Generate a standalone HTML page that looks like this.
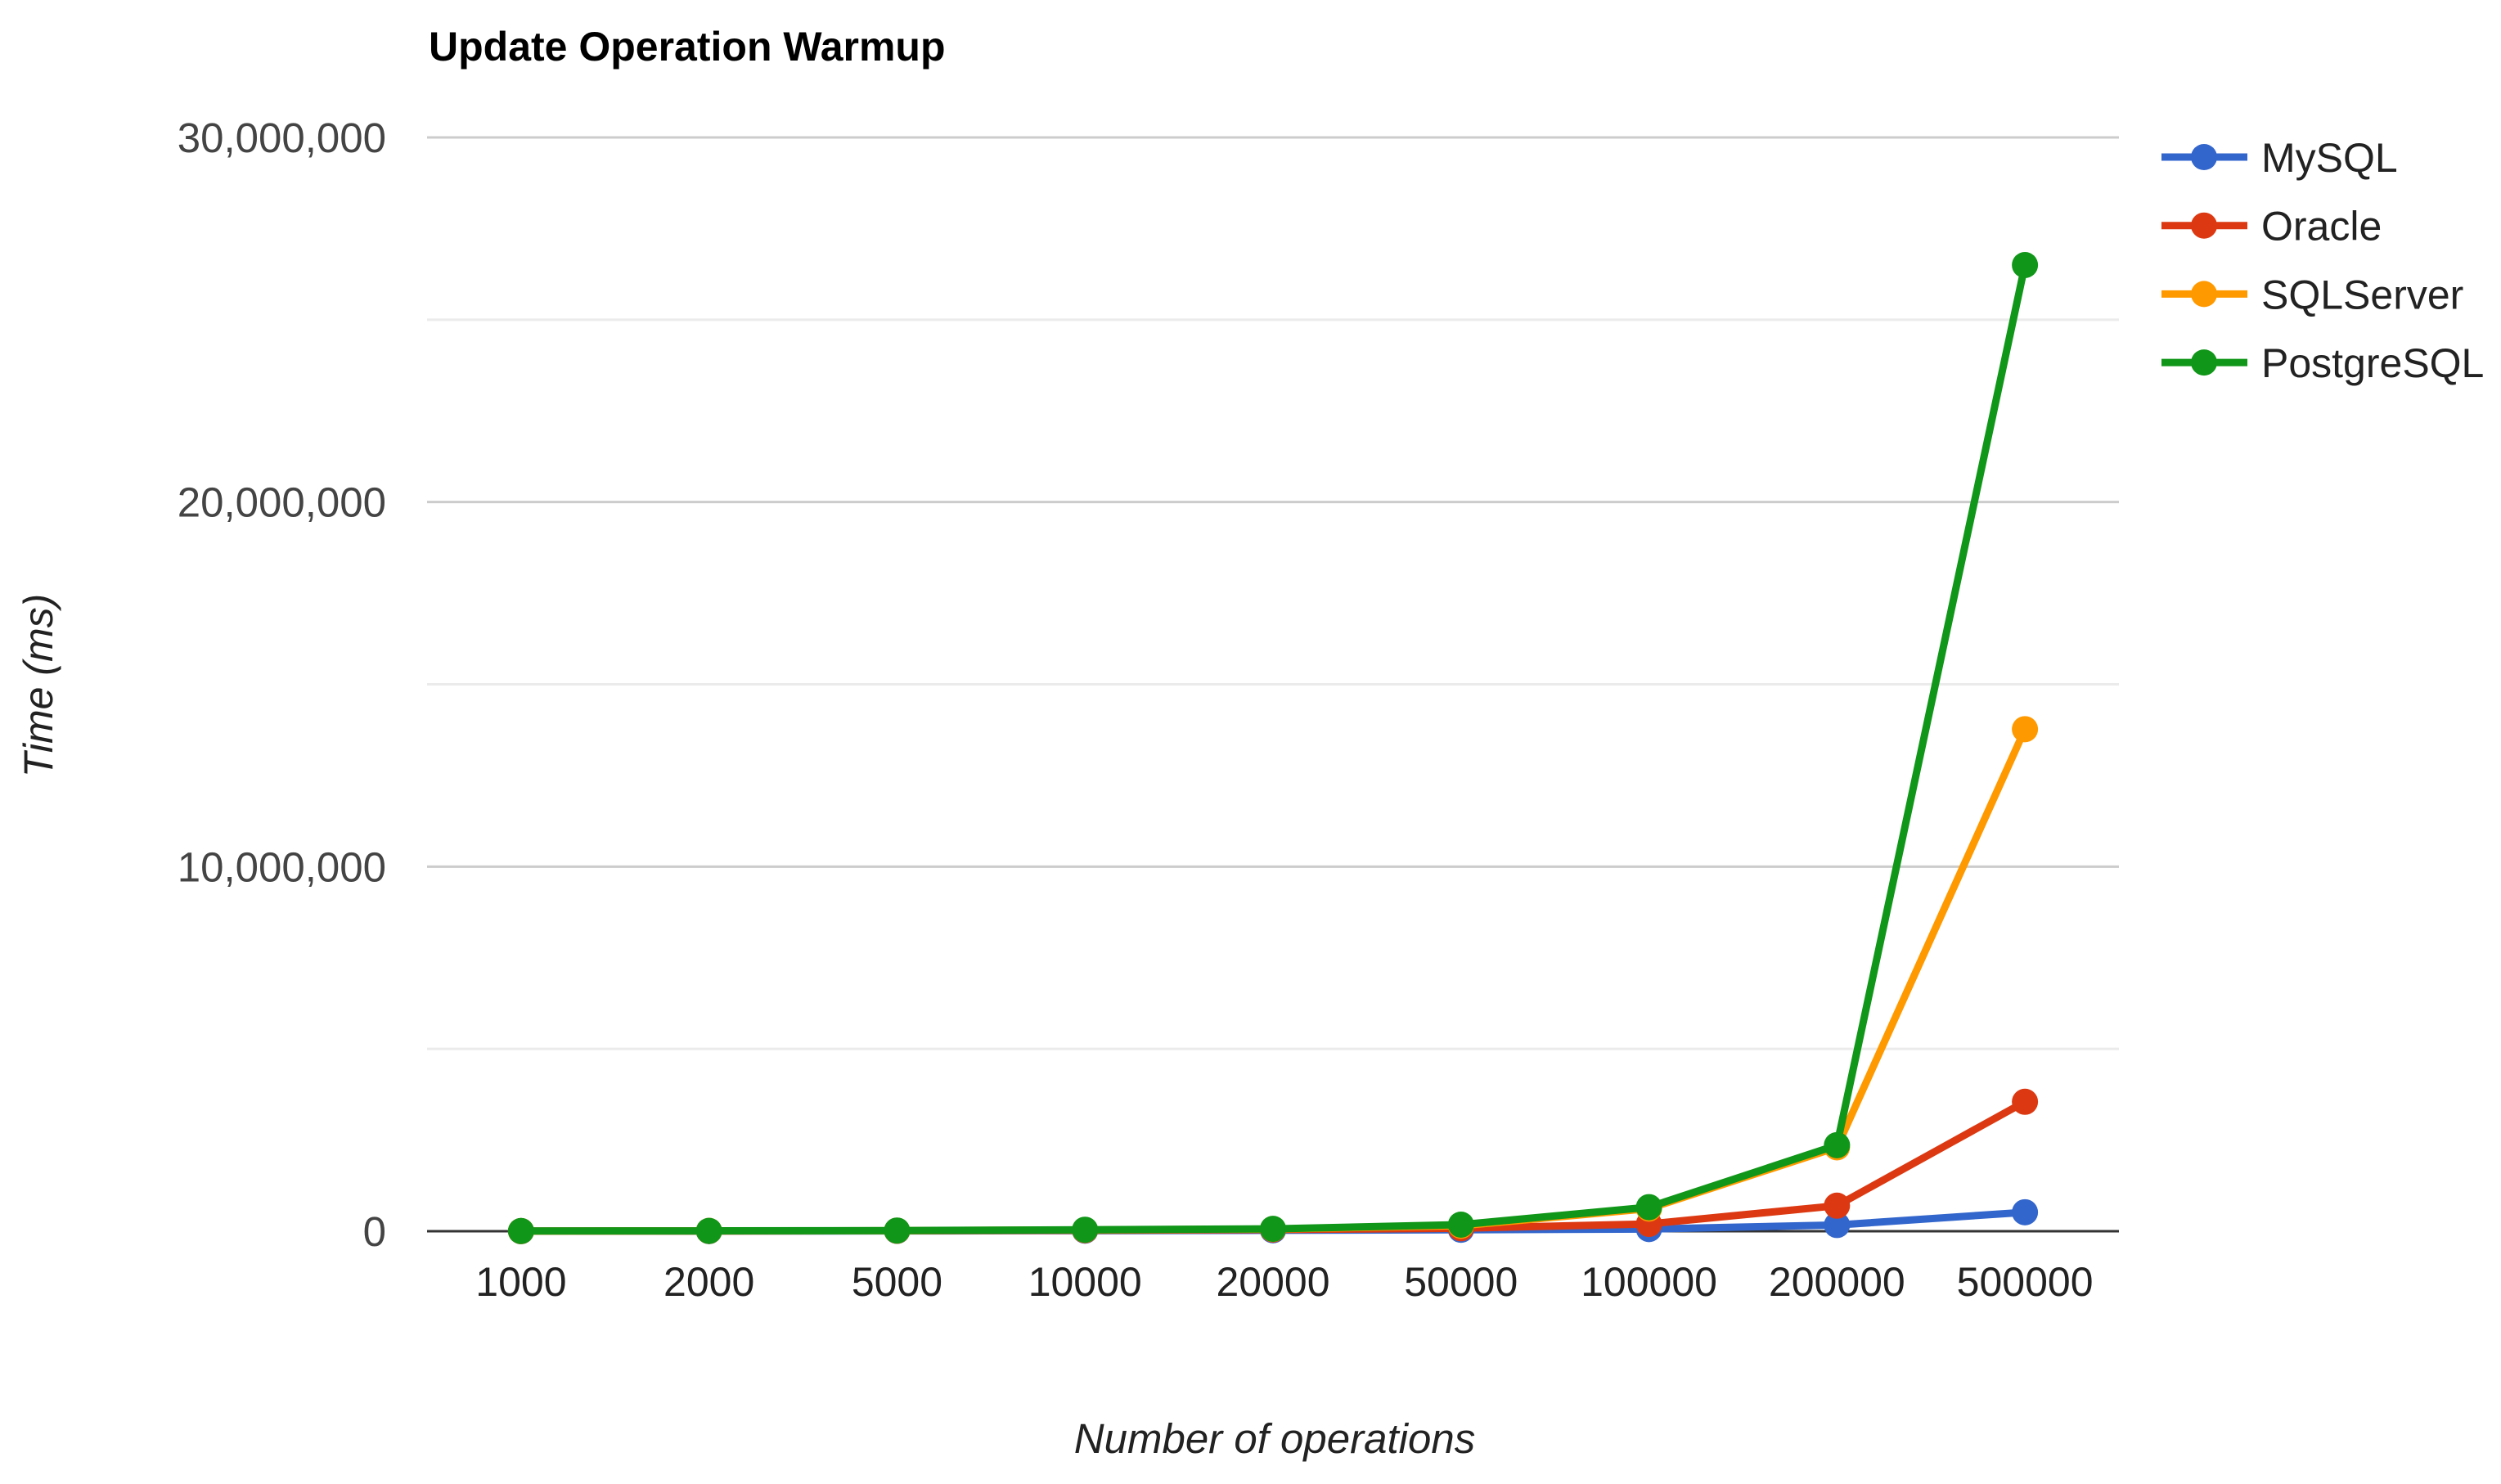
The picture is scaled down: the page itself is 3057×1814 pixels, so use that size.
<!DOCTYPE html>
<html><head><meta charset="utf-8"><style>
html,body{margin:0;padding:0;background:#fff;}
svg{display:block;font-family:"Liberation Sans",Arial,sans-serif;}
</style></head><body>
<svg id="chart" width="3057" height="1814" viewBox="0 0 3057 1814" xmlns="http://www.w3.org/2000/svg">
<text x="524" y="74" font-size="50" font-weight="bold" fill="#000">Update Operation Warmup</text>
<g id="grid"></g>
<g id="yticks"></g>
<g id="xticks"></g>
<g id="series"></g>
<g id="legend"></g>
<text transform="translate(64,838) rotate(-90)" text-anchor="middle" font-size="50" font-style="italic" fill="#222">Time (ms)</text>
<text x="1558" y="1776" text-anchor="middle" font-size="51" font-style="italic" fill="#222">Number of operations</text>
</svg>
<script>
const categories = ["1000","2000","5000","10000","20000","50000","100000","200000","500000"];
const seriesNames = ["MySQL","Oracle","SQLServer","PostgreSQL"];
const seriesColors = ["#3366cc","#dc3912","#ff9900","#109618"];
const mysql = [2000,4000,8000,15000,25000,40000,60000,170000,520000];
const oracle = [3000,6000,12000,25000,45000,80000,200000,700000,3550000];
const sqlserver = [4000,8000,15000,35000,60000,150000,620000,2300000,13770000];
const postgres = [5000,9000,18000,40000,65000,180000,660000,2360000,26500000];
const yTicks = [0,10000000,20000000,30000000];
const yTickLabels = ["0","10,000,000","20,000,000","30,000,000"];
const yMinor = [5000000,15000000,25000000];

const NS="http://www.w3.org/2000/svg";
const L=522,R=2590,T=168,B=1505,yMax=30000000;
const step=(R-L)/categories.length;
function xPos(i){return L+step*(i+0.5);}
function yPos(v){return B-(v/yMax)*(B-T);}
function mk(tag,attrs,parent){const e=document.createElementNS(NS,tag);for(const k in attrs)e.setAttribute(k,attrs[k]);parent.appendChild(e);return e;}

const grid=document.getElementById('grid');
yMinor.forEach(v=>{const l=mk('line',{x1:L,x2:R,y1:yPos(v),y2:yPos(v),stroke:'#ebebeb','stroke-width':3},grid);

});
const yt=document.getElementById('yticks');
yTicks.forEach((v,i)=>{
 if(v>0){const l=mk('line',{x1:L,x2:R,y1:yPos(v),y2:yPos(v),stroke:'#cccccc','stroke-width':3},grid);
 
 }
 const t=mk('text',{x:472,y:yPos(v)+18,'text-anchor':'end','font-size':51,fill:'#444'},yt);
 t.textContent=yTickLabels[i];
 
 
});
const base=mk('line',{x1:L,x2:R,y1:B,y2:B,stroke:'#333','stroke-width':3},grid);


const xt=document.getElementById('xticks');
categories.forEach((c,i)=>{const t=mk('text',{x:xPos(i),y:1584,'text-anchor':'middle','font-size':50,fill:'#222'},xt);
t.textContent=c;

});

const data=[mysql,oracle,sqlserver,postgres];
const sg=document.getElementById('series');
data.forEach((arr,s)=>{
 const g=mk('g',{},sg);
 
 
 const pts=arr.map((v,i)=>xPos(i)+','+yPos(v)).join(' ');
 const pl=mk('polyline',{points:pts,fill:'none',stroke:seriesColors[s],'stroke-width':9,'stroke-linejoin':'round'},g);
 
 
 arr.forEach((v,i)=>{const c=mk('circle',{cx:xPos(i),cy:yPos(v),r:16,fill:seriesColors[s]},g);
 
 });
});

const lg=document.getElementById('legend');
seriesNames.forEach((n,s)=>{
 const y=192+s*83.7;
 const g=mk('g',{},lg);
 
 
 mk('line',{x1:2642,x2:2747,y1:y,y2:y,stroke:seriesColors[s],'stroke-width':9},g);
 mk('circle',{cx:2694,cy:y,r:16,fill:seriesColors[s]},g);
 const t=mk('text',{x:2764,y:y+18,'font-size':50,fill:'#222'},g);
 t.textContent=n;
});
</script>
</body></html>
